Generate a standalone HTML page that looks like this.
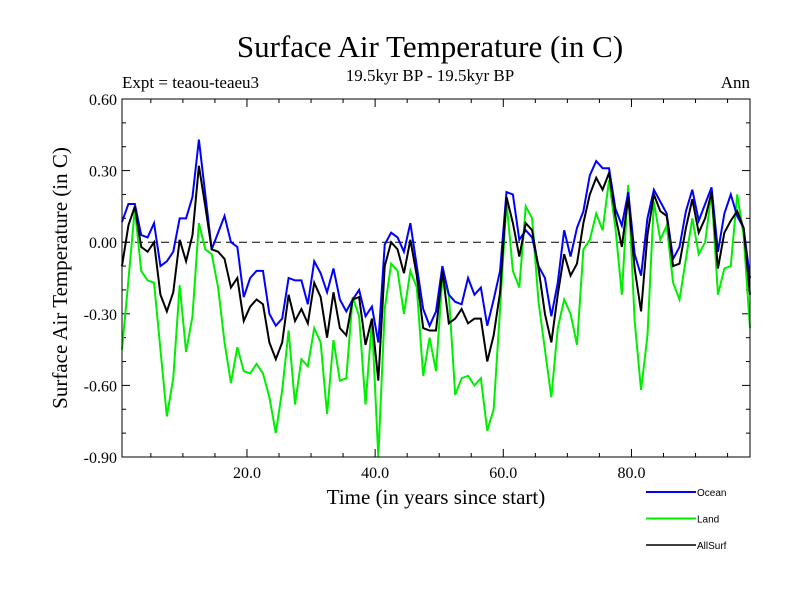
<!DOCTYPE html>
<html><head><meta charset="utf-8"><style>
body{margin:0;background:#fff;}
svg{display:block;}
.serif{font-family:"Liberation Serif",serif;}
.sans{font-family:"Liberation Sans",sans-serif;}
</style></head><body>
<svg id="chart" width="800" height="600" viewBox="0 0 800 600" xmlns="http://www.w3.org/2000/svg">
<rect width="800" height="600" fill="#fff"/>
<text class="serif" x="430" y="57" font-size="31" text-anchor="middle">Surface Air Temperature (in C)</text>
<text class="serif" x="430" y="81" font-size="17" text-anchor="middle">19.5kyr BP - 19.5kyr BP</text>
<text class="serif" x="122" y="88" font-size="17">Expt = teaou-teaeu3</text>
<text class="serif" x="750" y="88" font-size="17" text-anchor="end">Ann</text>
<text class="serif" font-size="21" text-anchor="middle" transform="translate(67,278) rotate(-90)">Surface Air Temperature (in C)</text>
<text class="serif" x="436" y="504" font-size="21" text-anchor="middle">Time (in years since start)</text>
<g id="axes"></g>
<g id="series"></g>
<g id="legend"></g>
<rect x="122" y="99" width="628" height="358" fill="none" stroke="#000" stroke-width="1"/>
</svg>
<script>
const ocean = [0.085,0.16,0.16,0.03,0.02,0.08,-0.10,-0.08,-0.04,0.10,0.10,0.19,0.43,0.20,-0.03,0.04,0.11,0.0,-0.02,-0.23,-0.15,-0.12,-0.12,-0.30,-0.35,-0.32,-0.15,-0.16,-0.16,-0.26,-0.08,-0.13,-0.21,-0.11,-0.24,-0.29,-0.24,-0.20,-0.31,-0.27,-0.42,-0.01,0.04,0.02,-0.04,0.08,-0.10,-0.28,-0.35,-0.29,-0.10,-0.22,-0.25,-0.26,-0.15,-0.22,-0.19,-0.35,-0.24,-0.12,0.21,0.20,0.01,0.05,0.02,-0.10,-0.15,-0.31,-0.17,0.05,-0.06,0.06,0.13,0.28,0.34,0.31,0.31,0.14,0.07,0.21,-0.05,-0.14,0.10,0.22,0.17,0.12,-0.07,-0.02,0.13,0.22,0.09,0.16,0.23,-0.04,0.12,0.20,0.11,0.06,-0.15];
const land = [-0.45,-0.16,0.14,-0.12,-0.16,-0.17,-0.45,-0.73,-0.57,-0.18,-0.46,-0.31,0.08,-0.03,-0.05,-0.19,-0.42,-0.59,-0.44,-0.54,-0.55,-0.51,-0.55,-0.65,-0.80,-0.62,-0.37,-0.68,-0.49,-0.52,-0.36,-0.42,-0.72,-0.41,-0.58,-0.57,-0.23,-0.31,-0.68,-0.33,-0.90,-0.28,-0.09,-0.12,-0.30,-0.12,-0.19,-0.56,-0.40,-0.54,-0.15,-0.22,-0.64,-0.57,-0.56,-0.60,-0.57,-0.79,-0.70,-0.28,0.17,-0.12,-0.19,0.15,0.10,-0.25,-0.45,-0.65,-0.36,-0.24,-0.30,-0.43,-0.03,0.01,0.12,0.05,0.26,0.06,-0.22,0.24,-0.33,-0.62,-0.39,0.17,0.01,0.07,-0.17,-0.24,-0.07,0.10,-0.05,0.0,0.21,-0.22,-0.11,-0.10,0.20,0.03,-0.36];
const allSurf = [-0.10,0.07,0.15,-0.02,-0.04,0.0,-0.22,-0.29,-0.21,0.01,-0.08,0.03,0.32,0.15,-0.03,-0.04,-0.07,-0.19,-0.15,-0.33,-0.27,-0.24,-0.26,-0.42,-0.49,-0.42,-0.22,-0.33,-0.28,-0.34,-0.17,-0.23,-0.40,-0.21,-0.36,-0.39,-0.24,-0.23,-0.43,-0.32,-0.58,-0.10,0.0,-0.03,-0.13,0.01,-0.14,-0.36,-0.37,-0.37,-0.12,-0.34,-0.32,-0.28,-0.34,-0.32,-0.32,-0.50,-0.39,-0.21,0.19,0.08,-0.06,0.08,0.05,-0.11,-0.30,-0.42,-0.22,-0.05,-0.14,-0.09,0.08,0.20,0.27,0.22,0.29,0.11,-0.02,0.19,-0.11,-0.29,0.03,0.20,0.13,0.11,-0.10,-0.09,0.06,0.18,0.04,0.10,0.21,-0.11,0.04,0.09,0.13,0.06,-0.22];
const yTicks = [0.6,0.3,0.0,-0.3,-0.6,-0.9];
const yTickLabels = ["0.60","0.30","0.00","-0.30","-0.60","-0.90"];
const xTicks = [20,40,60,80];
const xTickLabels = ["20.0","40.0","60.0","80.0"];
const seriesNames = ["Ocean","Land","AllSurf"];

const NS="http://www.w3.org/2000/svg";
const L=122,R=750,T=99,B=457, XMIN=0.5, XMAX=98.5, YMIN=-0.9, YMAX=0.6;
function xs(v){return L+(v-XMIN)/(XMAX-XMIN)*(R-L);}
function ys(v){return B-(v-YMIN)/(YMAX-YMIN)*(B-T);}
function mk(tag,parent){const e=document.createElementNS(NS,tag);parent.appendChild(e);return e;}
const axes=document.getElementById('axes');
const zl=mk('line',axes);


zl.setAttribute('x1',L);zl.setAttribute('x2',R);zl.setAttribute('y1',ys(0));zl.setAttribute('y2',ys(0));
zl.setAttribute('stroke','#000');zl.setAttribute('stroke-dasharray','8,5');zl.setAttribute('stroke-width','1');
for(let v=-0.9;v<=0.6001;v+=0.1){
  const y=ys(v);const major=Math.abs(Math.round(v*10)%3)===0;const len=major?8:4;
  const t1=mk('line',axes);
  
  
  t1.setAttribute('x1',L);t1.setAttribute('x2',L+len);t1.setAttribute('y1',y);t1.setAttribute('y2',y);t1.setAttribute('stroke','#000');
  const t2=mk('line',axes);
  
  
  t2.setAttribute('x1',R);t2.setAttribute('x2',R-len);t2.setAttribute('y1',y);t2.setAttribute('y2',y);t2.setAttribute('stroke','#000');
}
yTicks.forEach((v,i)=>{
  const t=mk('text',axes);
  
  
  t.setAttribute('x',L-5);t.setAttribute('y',ys(v)+6);t.setAttribute('text-anchor','end');
  t.setAttribute('class','serif');t.setAttribute('font-size','16');t.textContent=yTickLabels[i];
});
for(let v=5;v<=95;v+=5){
  const x=xs(v);const major=v%20===0;const len=major?8:4;
  const t1=mk('line',axes);
  
  
  t1.setAttribute('x1',x);t1.setAttribute('x2',x);t1.setAttribute('y1',B);t1.setAttribute('y2',B-len);t1.setAttribute('stroke','#000');
  const t2=mk('line',axes);
  
  
  t2.setAttribute('x1',x);t2.setAttribute('x2',x);t2.setAttribute('y1',T);t2.setAttribute('y2',T+len);t2.setAttribute('stroke','#000');
}
xTicks.forEach((v,i)=>{
  const t=mk('text',axes);
  
  
  t.setAttribute('x',xs(v));t.setAttribute('y',B+21);t.setAttribute('text-anchor','middle');
  t.setAttribute('class','serif');t.setAttribute('font-size','16');t.textContent=xTickLabels[i];
});
const ser=document.getElementById('series');
const colors=["#0000ff","#00ee00","#000000"];
[land,ocean,allSurf].forEach((arr,k)=>{
  const idx=[1,0,2][k];
  const p=mk('polyline',ser);
  
  
  p.setAttribute('points',arr.map((v,i)=>xs(i+1-0.5)+','+ys(v)).join(' '));
  p.setAttribute('fill','none');p.setAttribute('stroke',colors[idx]);p.setAttribute('stroke-width','2');
  p.setAttribute('stroke-linejoin','miter');
});
const lg=document.getElementById('legend');
seriesNames.forEach((n,i)=>{
  const y=492+i*26.5;
  const l=mk('line',lg);
  
  
  l.setAttribute('x1',646);l.setAttribute('x2',696);l.setAttribute('y1',y);l.setAttribute('y2',y);
  l.setAttribute('stroke',colors[i]);l.setAttribute('stroke-width',i===2?'1.5':'2');
  const t=mk('text',lg);
  
  
  t.setAttribute('x',697);t.setAttribute('y',y+4);t.setAttribute('class','sans');t.setAttribute('font-size','10');
  t.textContent=n;
});
</script>
</body></html>
